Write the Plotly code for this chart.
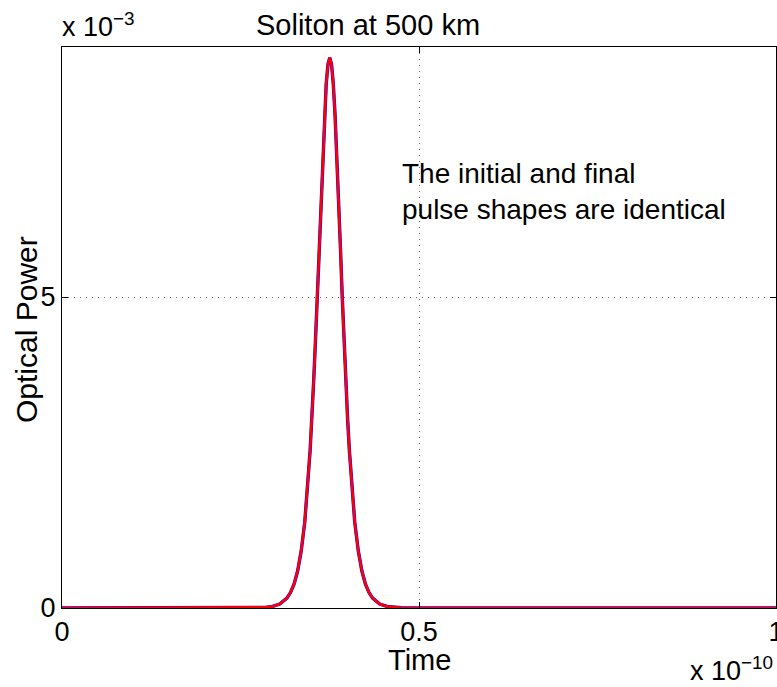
import plotly.graph_objects as go

# Time axis in units of 1e-10 s, power in units of 1e-3
time_scaled = [0.0, 0.20, 0.255, 0.275, 0.285, 0.295, 0.305, 0.315, 0.320, 0.325,
               0.330, 0.335, 0.340, 0.3475, 0.350, 0.3525, 0.355, 0.3575, 0.360,
               0.3625, 0.365, 0.3675, 0.370, 0.3725, 0.375, 0.3775, 0.380, 0.3825,
               0.385, 0.3875, 0.390, 0.3925, 0.395, 0.3975, 0.400, 0.4025, 0.410,
               0.415, 0.420, 0.425, 0.430, 0.435, 0.445, 0.455, 0.465, 0.475,
               0.495, 0.55, 1.0]
power_initial = [0.0, 0.0, 0.0007, 0.0043, 0.0106, 0.026, 0.064, 0.158, 0.248, 0.384,
                 0.594, 0.915, 1.38, 2.53, 3.04, 3.65, 4.30, 5.00, 5.78,
                 6.54, 7.27, 7.91, 8.42, 8.74, 8.85, 8.74, 8.42, 7.91,
                 7.27, 6.54, 5.78, 5.00, 4.30, 3.65, 3.04, 2.53, 1.38,
                 0.915, 0.594, 0.384, 0.248, 0.158, 0.064, 0.026, 0.0106, 0.0043,
                 0.0007, 0.0, 0.0]
power_final = list(power_initial)

x_ticks = [0, 0.5, 1]
x_tick_labels = ["0", "0.5", "1"]
y_ticks = [0, 5]
y_tick_labels = ["0", "5"]

FONT = "Liberation Sans, Arial, Helvetica, sans-serif"

fig = go.Figure()
fig.add_trace(go.Scatter(x=time_scaled, y=power_initial, mode="lines",
                         line=dict(color="#0000ff", width=3.4), name="initial"))
fig.add_trace(go.Scatter(x=time_scaled, y=power_final, mode="lines",
                         line=dict(color="#ff0000", width=2.6), name="final"))

W, H = 777, 687
L, R, T, B = 62, 1, 46.5, 78.5
fig.update_layout(
    width=W, height=H,
    margin=dict(l=L, r=R, t=T, b=B, autoexpand=False),
    paper_bgcolor="white", plot_bgcolor="white",
    showlegend=False,
    font=dict(family=FONT, color="black", size=26),
)
axis_common = dict(
    ticks="inside", ticklen=6, tickcolor="black",
    showline=True, linecolor="black", linewidth=1, mirror="ticks",
    showgrid=True, gridcolor="#666666", griddash="1px,5px", gridwidth=1,
    zeroline=False, tickfont=dict(size=27, family=FONT, color="black"),
    ticklabeloverflow="allow", automargin=False,
)
fig.update_xaxes(range=[0, 1], tickvals=x_ticks, ticktext=x_tick_labels, **axis_common)
fig.update_yaxes(range=[0, 9.02], tickvals=y_ticks, ticktext=y_tick_labels, **axis_common)

pw = W - L - R
ph = H - T - B
def px(xp):
    return (xp - L) / pw
def py(yp):
    return (H - B - yp) / ph

ann = [
    dict(text="Soliton at 500 km", x=px(368), y=py(24), size=29),
    dict(text="Time", x=px(419), y=py(661), size=29),
    dict(text="x 10<sup>\u22123</sup>", x=px(98), y=py(24), size=27),
    dict(text="x 10<sup>\u221210</sup>", x=px(731), y=py(670), size=27),
]
for a in ann:
    fig.add_annotation(text=a["text"], xref="paper", yref="paper", x=a["x"], y=a["y"],
                       xanchor="center", yanchor="middle", showarrow=False,
                       font=dict(size=a["size"], family=FONT, color="black"))
fig.add_annotation(text="Optical Power", xref="paper", yref="paper", x=px(27), y=py(330),
                   xanchor="center", yanchor="middle", showarrow=False, textangle=-90,
                   font=dict(size=30, family=FONT, color="black"))
fig.add_annotation(text="The initial and final<br>pulse shapes are identical",
                   xref="x", yref="y", x=0.473, y=6.69, xanchor="left", yanchor="middle",
                   align="left", showarrow=False,
                   font=dict(size=28, family=FONT, color="black"))

fig.write_html("out.html")
